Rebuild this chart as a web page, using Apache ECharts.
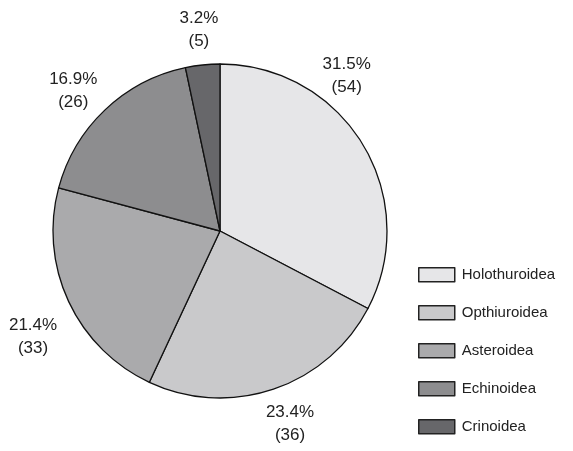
<!DOCTYPE html>
<html><head><meta charset="utf-8">
<script src="https://cdn.jsdelivr.net/npm/echarts@6/dist/echarts.min.js"></script>
<style>html,body{margin:0;padding:0;background:#fff}#c{width:573px;height:451px}</style>
</head><body><div id="c"></div>
<script>
const categories = ['Holothuroidea','Opthiuroidea','Asteroidea','Echinoidea','Crinoidea'];
const percents = [31.5, 23.4, 21.4, 16.9, 3.2];
const counts = [54, 36, 33, 26, 5];
const colors = ['#e6e6e8','#c9c9cb','#aaaaac','#8d8d8f','#67676a'];

const chart = echarts.init(document.getElementById('c'));
const font = "'Liberation Sans', Arial, sans-serif";
const labelOffsets = [[-47,-50],[5,0],[-3,20],[-7,7],[0,1]];
const mainData = categories.map((n,i)=>({name:n, value:percents[i], itemStyle:{color:colors[i]}}));
const labelData = categories.map((n,i)=>({
  name:n, value:percents[i], label:{offset:labelOffsets[i]}
}));
chart.setOption({
  animation:false,
  legend:{
    orient:'vertical', left:418, top:267, padding:0,
    data:categories,
    itemWidth:36, itemHeight:14, itemGap:22.5,
    icon:'rect',
    itemStyle:{borderColor:'#222', borderWidth:1.5},
    formatter:'{t|{name}}',
    textStyle:{fontFamily:font, fontSize:15, color:'#222',
      rich:{t:{fontFamily:font, fontSize:15, color:'#222', padding:[0,0,0,2]}}},
    selectedMode:false
  },
  series:[
    {
      type:'pie', center:[220,231], radius:167, startAngle:90, clockwise:true,
      data:mainData, label:{show:false}, labelLine:{show:false},
      itemStyle:{borderColor:'#111', borderWidth:1.3},
      emphasis:{disabled:true}, silent:true
    },
    {
      type:'pie', center:[220,231], radius:[186,214], startAngle:90, clockwise:true,
      data:labelData, silent:true, legendHoverLink:false,
      itemStyle:{color:'rgba(0,0,0,0)', borderWidth:0},
      labelLine:{show:false},
      label:{
        show:true, position:'inside', fontFamily:font, fontSize:17, color:'#222',
        lineHeight:23, align:'center',
        formatter:p=>p.value.toFixed(1)+'%\n('+counts[p.dataIndex]+')'
      },
      emphasis:{disabled:true}
    }
  ]
});
</script></body></html>
